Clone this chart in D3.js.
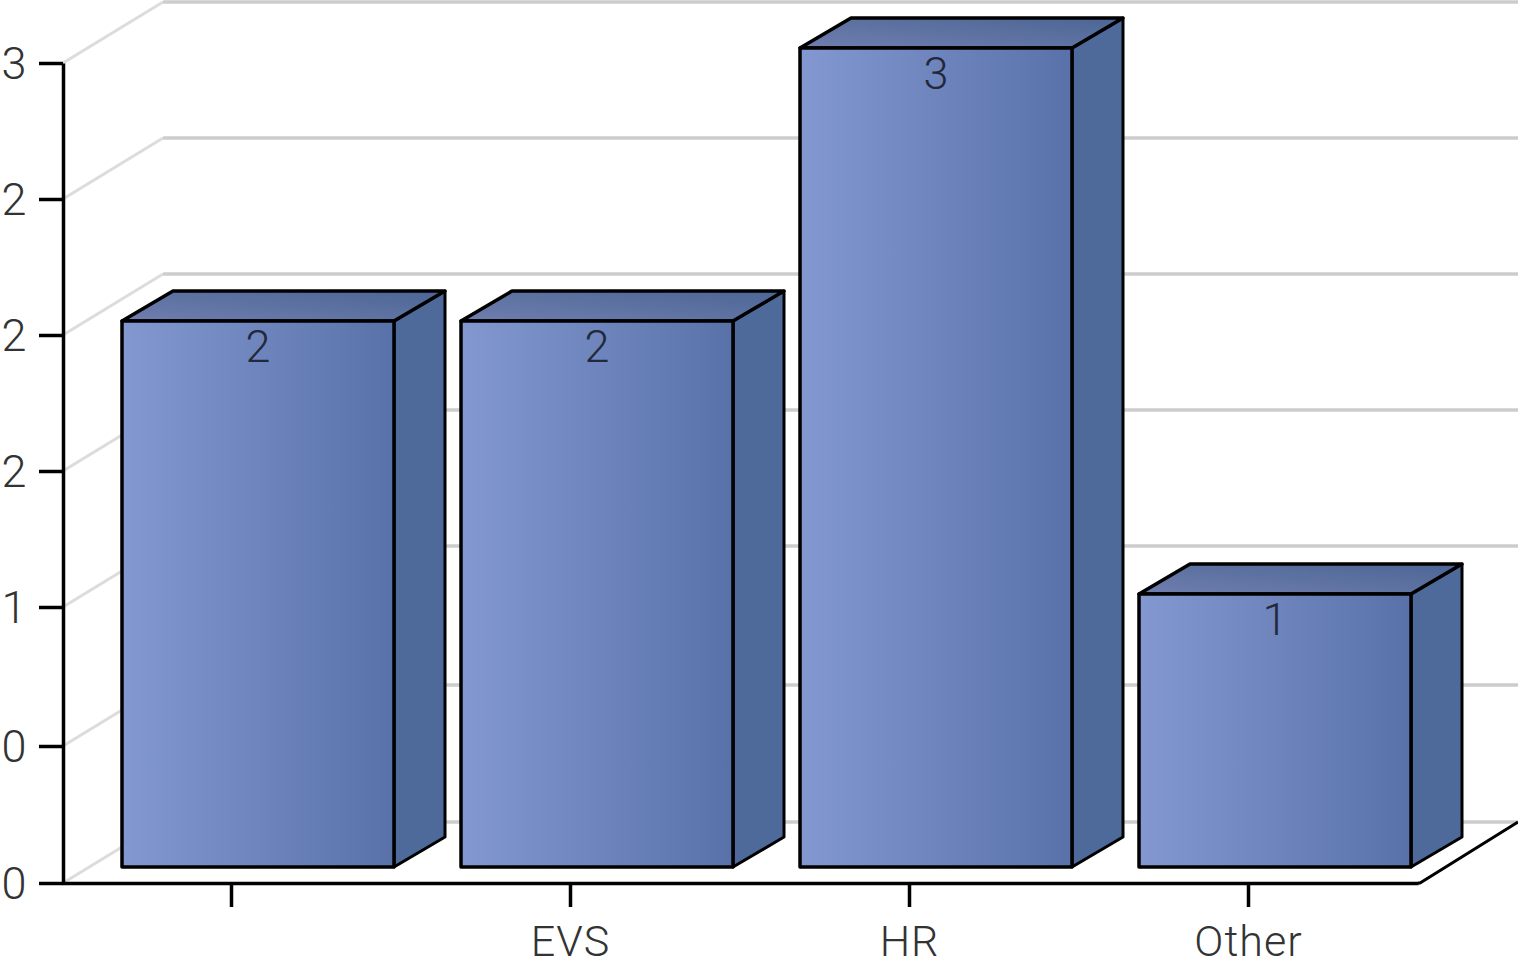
<!DOCTYPE html>
<html>
<head>
<meta charset="utf-8">
<title>Count by department</title>
<script src="https://cdn.jsdelivr.net/npm/d3@7/dist/d3.min.js"></script>
<style>
  html, body { margin: 0; padding: 0; background: #fff; overflow: hidden; }
  svg { display: block; }
  text { font-family: Roboto, "Liberation Sans", Arial, sans-serif; font-weight: 300; }
</style>
</head>
<body>
<svg id="chart" width="1518" height="967"></svg>
<script>
// Chart data
const categories = ["", "EVS", "HR", "Other"];
const counts = [2, 2, 3, 1];
const tickValues = [0, 0.5, 1, 1.5, 2, 2.5, 3];
const tickLabels = ["0", "0", "1", "2", "2", "2", "3"];

// Oblique projection: the wall sits behind the floor, each box has a shallower depth
const wallDepth = { dx: 100, dy: -61 };
const boxDepth = { dx: 51, dy: -30 };
const boxWidth = 272;
const boxShift = 26.5;
const floorEnd = 1420;
const labelSize = "45px";
const categorySize = "43px";

const svg = d3.select("#chart");

// Axis rows and box heights are rounded separately by the renderer
const gridY = d3.scaleLinear().domain([0, 0.5, 1, 3]).range([883, 746, 607, 63]);
const boxY = d3.scaleLinear().domain([0, 3]).range([867, 48]);
const x = d3.scaleBand().domain(categories).range([62, 1418]);

const defs = svg.append("defs");
const frontGrad = defs.append("linearGradient").attr("id", "front")
  .attr("x1", 0).attr("y1", 0).attr("x2", 1).attr("y2", 0);
frontGrad.append("stop").attr("offset", 0).attr("stop-color", "#8398d0");
frontGrad.append("stop").attr("offset", 1).attr("stop-color", "#5872a9");
const topGrad = defs.append("linearGradient").attr("id", "top")
  .attr("x1", 0).attr("y1", 1).attr("x2", 1).attr("y2", 0);
topGrad.append("stop").attr("offset", 0).attr("stop-color", "#6f7eae");
topGrad.append("stop").attr("offset", 1).attr("stop-color", "#4c6695");

// Wall and floor grid
const grid = svg.append("g").attr("fill", "none");
grid.selectAll("line.diag").data(tickValues).join("line")
  .attr("class", "diag")
  .attr("x1", 63).attr("y1", d => gridY(d))
  .attr("x2", 63 + wallDepth.dx).attr("y2", d => gridY(d) + wallDepth.dy)
  .attr("stroke", "#dcdcdc").attr("stroke-width", 3);
grid.selectAll("line.flat").data(tickValues).join("line")
  .attr("class", "flat")
  .attr("x1", 63 + wallDepth.dx).attr("y1", d => gridY(d) + wallDepth.dy)
  .attr("x2", 1518).attr("y2", d => gridY(d) + wallDepth.dy)
  .attr("stroke", "#cccccc").attr("stroke-width", 3.5);

// Right edge of the floor
svg.append("path")
  .attr("d", d3.line()([
    [x.range()[1], gridY(0)],
    [floorEnd, gridY(0)],
    [1518, gridY(0) + wallDepth.dy]
  ]))
  .attr("fill", "none").attr("stroke", "#000").attr("stroke-width", 3);

// Axes
const yAxis = d3.axisLeft(gridY)
  .tickValues(tickValues)
  .tickFormat((d, i) => tickLabels[i])
  .tickSize(24).tickSizeOuter(0).tickPadding(14);
const xAxis = d3.axisBottom(x).tickSize(24).tickSizeOuter(0).tickPadding(18.5);

const yG = svg.append("g").attr("transform", "translate(63,0)").call(yAxis);
const xG = svg.append("g").attr("transform", "translate(0,883)").call(xAxis);

[yG, xG].forEach(g => {
  g.selectAll(".domain").attr("stroke", "#000").attr("stroke-width", 3.5);
  g.selectAll(".tick line").attr("stroke", "#000").attr("stroke-width", 3.5);
  g.selectAll(".tick text")
    .attr("fill", "#333")
    .style("font-size", labelSize)
    .style("font-family", 'Roboto, "Liberation Sans", Arial, sans-serif')
    .style("font-weight", 300);
});
yG.selectAll(".tick text").attr("text-anchor", "middle").attr("x", -49).attr("dy", "0.35em");
xG.selectAll(".tick text")
  .attr("dy", "0.71em")
  .style("font-size", categorySize)
  .style("letter-spacing", "1px");

// Boxes
const left = d => x(d.cat) + x.bandwidth() / 2 + boxShift - boxWidth / 2;
const rows = categories.map((cat, i) => ({ cat, value: counts[i] }));
const boxes = svg.append("g").selectAll("g").data(rows).join("g")
  .attr("stroke-linejoin", "round");

const pts = arr => arr.map(p => p.join(",")).join(" ");

boxes.append("polygon")
  .attr("points", d => {
    const x0 = left(d) + boxWidth, t = boxY(d.value), b = boxY(0);
    return pts([[x0, t], [x0 + boxDepth.dx, t + boxDepth.dy], [x0 + boxDepth.dx, b + boxDepth.dy], [x0, b]]);
  })
  .attr("fill", "#4e6a9b").attr("stroke", "#000").attr("stroke-width", 3);

boxes.append("polygon")
  .attr("points", d => {
    const x0 = left(d), t = boxY(d.value);
    return pts([[x0, t], [x0 + boxDepth.dx, t + boxDepth.dy], [x0 + boxWidth + boxDepth.dx, t + boxDepth.dy], [x0 + boxWidth, t]]);
  })
  .attr("fill", "url(#top)").attr("stroke", "#000").attr("stroke-width", 3.5);

boxes.append("rect")
  .attr("x", left)
  .attr("y", d => boxY(d.value))
  .attr("width", boxWidth)
  .attr("height", d => boxY(0) - boxY(d.value))
  .attr("fill", "url(#front)").attr("stroke", "#000").attr("stroke-width", 3.5);

boxes.append("text")
  .attr("x", d => left(d) + boxWidth / 2)
  .attr("y", d => boxY(d.value) + 41)
  .attr("text-anchor", "middle")
  .attr("fill", "#23283a")
  .style("font-size", labelSize)
  .text(d => d.value);
</script>
</body>
</html>
